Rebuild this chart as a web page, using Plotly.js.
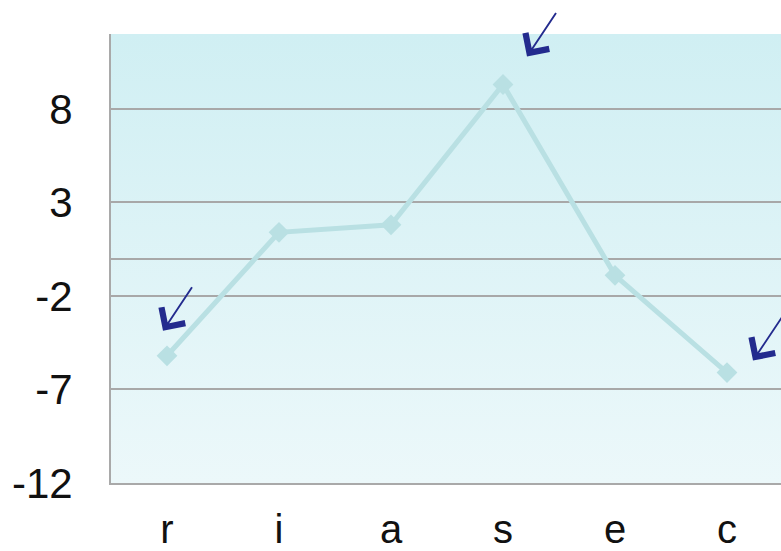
<!DOCTYPE html>
<html>
<head>
<meta charset="utf-8">
<script src="https://cdn.plot.ly/plotly-3.0.1.min.js"></script>
<style>
html,body{margin:0;padding:0;background:#fff;overflow:hidden;}
#chart{width:783px;height:551px;}
</style>
</head>
<body>
<div id="chart"></div>
<script>
const categories = ['r', 'i', 'a', 's', 'e', 'c'];
const values = [-5.2, 1.4, 1.8, 9.3, -0.9, -6.1];
const yTicks = [-12, -7, -2, 3, 8];
const highlighted = ['r', 's', 'c'];

const lineColor = '#b9e0e3';
const arrowColor = '#232b8e';

const gradSvg = '<svg xmlns="http://www.w3.org/2000/svg" width="10" height="100" preserveAspectRatio="none">' +
  '<defs><linearGradient id="g" x1="0" y1="0" x2="0" y2="1">' +
  '<stop offset="0" stop-color="#d0eff3"/><stop offset="1" stop-color="#ecf8fa"/>' +
  '</linearGradient></defs><rect width="10" height="100" fill="url(#g)"/></svg>';
const gradSrc = 'data:image/svg+xml;base64,' + btoa(gradSvg);

const shifts = {r: [-4, 25], s: [24, 28], c: [26, 12]};

const annotations = highlighted.map(cat => {
  const idx = categories.indexOf(cat);
  return {
    x: cat, y: values[idx], xref: 'x', yref: 'y',
    text: '', showarrow: true,
    ax: 30, ay: -45,
    xshift: shifts[cat][0], yshift: shifts[cat][1],
    arrowhead: 4, arrowsize: 2.9, arrowwidth: 1.9,
    arrowcolor: arrowColor, standoff: 0
  };
});

const trace = {
  type: 'scatter', mode: 'lines+markers',
  x: categories, y: values,
  line: {color: lineColor, width: 5},
  marker: {symbol: 'diamond', size: 16, color: lineColor},
  hoverinfo: 'skip'
};

const layout = {
  width: 783, height: 551,
  margin: {l: 111, r: 0, t: 34, b: 68},
  paper_bgcolor: '#ffffff',
  plot_bgcolor: 'rgba(0,0,0,0)',
  showlegend: false,
  font: {family: 'Liberation Sans, Arial, sans-serif', color: '#111', size: 42},
  images: [{
    source: gradSrc, xref: 'paper', yref: 'paper',
    x: 0, y: 1, sizex: 1, sizey: 1, sizing: 'stretch',
    xanchor: 'left', yanchor: 'top', layer: 'below'
  }],
  xaxis: {
    type: 'category', range: [-0.5, 5.5],
    showgrid: false, zeroline: false,
    showline: true, linecolor: '#a9a9a9', linewidth: 2,
    ticks: '', ticklabelstandoff: 10,
    tickfont: {size: 40}
  },
  yaxis: {
    range: [-12, 12], tickvals: yTicks, ticktext: yTicks.map(String),
    showgrid: true, gridcolor: '#a8a8a8', gridwidth: 2,
    zeroline: true, zerolinecolor: '#a8a8a8', zerolinewidth: 2,
    showline: true, linecolor: '#a9a9a9', linewidth: 2,
    ticks: '', ticklabelstandoff: 28,
    tickfont: {size: 42}
  },
  annotations: annotations
};

Plotly.newPlot('chart', [trace], layout, {displayModeBar: false, staticPlot: true});
</script>
</body>
</html>
